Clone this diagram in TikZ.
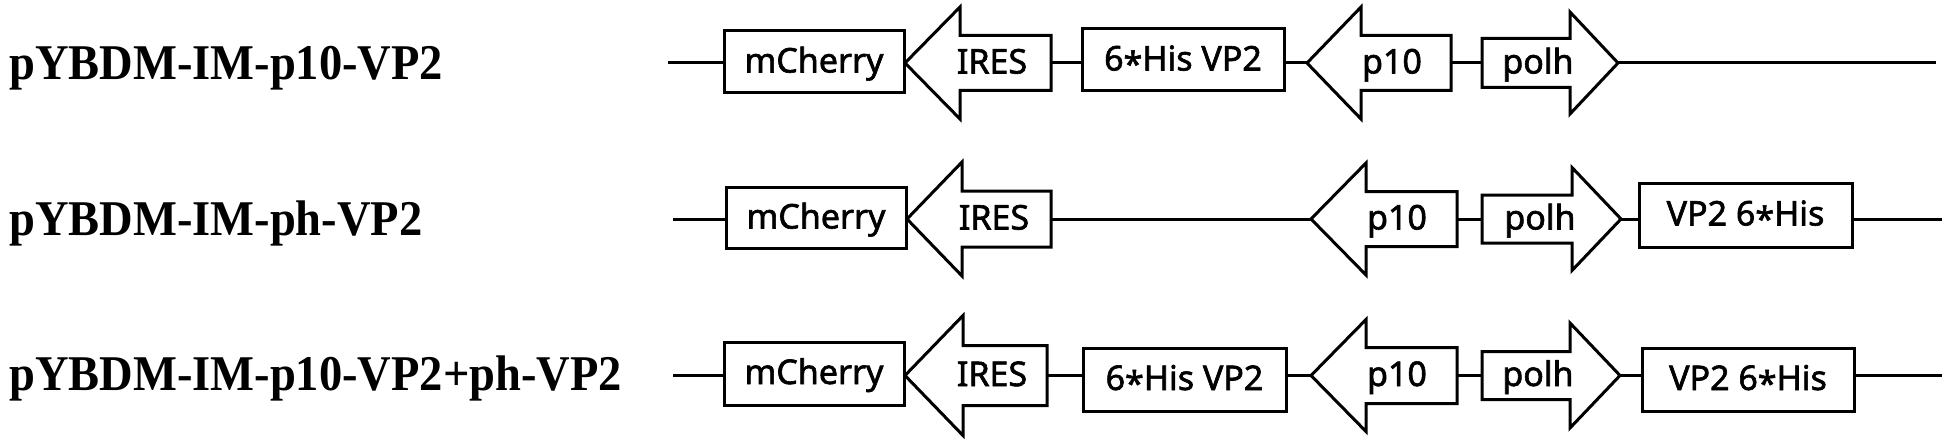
\documentclass[tikz,border=0pt]{standalone}
\usepackage{fontspec}
\usepackage{graphicx}
\newfontfamily\genefont[FakeBold=1.8]{Noto Sans}
\newfontfamily\namefont{Liberation Serif}
\newcommand{\sixhis}{6\raisebox{-0.17em}{*}His}
% #1 name, #2 tip x, #3 head-back x, #4 tail x, #5 y, #6 head half-height, #7 body half-height
\newcommand{\genearrow}[7]{%
  \draw[gene] (#2,#5) -- (#3,#5-#6) -- (#3,#5-#7) -- (#4,#5-#7) -- (#4,#5+#7)
    -- (#3,#5+#7) -- (#3,#5+#6) -- cycle;
  \coordinate (#1-tip) at (#2,#5);
  \coordinate (#1-tail) at (#4,#5);
}
\begin{document}
\begin{tikzpicture}[x=1pt,y=-1pt,
  gene/.style={draw=black,line width=3pt,fill=white,line join=miter},
  wire/.style={draw=black,line width=3pt},
  genebox/.style={draw=black,line width=3pt,fill=white,inner sep=0pt,
    font=\genefont\fontsize{34pt}{40pt}\selectfont,text height=28pt,text depth=7pt},
  genelabel/.style={inner sep=0pt,font=\genefont\fontsize{34pt}{40pt}\selectfont,
    text height=28pt,text depth=7pt},
  namelabel/.style={inner sep=0pt,anchor=base west,
    font=\namefont\bfseries\fontsize{50pt}{56pt}\selectfont}]
\fill[white] (0,0) rectangle (1946,441);
\useasboundingbox (0,0) rectangle (1946,441);

% ---------- row names ----------
\node[namelabel] (name1) at (9,80) {\scalebox{0.93}[1]{pYBDM-IM-p10-VP2}};
\node[namelabel] (name2) at (9,235) {\scalebox{0.93}[1]{pYBDM-IM-ph-VP2}};
\node[namelabel] (name3) at (9,390) {\scalebox{0.93}[1]{pYBDM-IM-p10-VP2+ph-VP2}};

% ---------- row 1 ----------
\coordinate (s1) at (668,63);
\coordinate (e1) at (1936,63);
\node[genebox,minimum width=180pt,minimum height=62pt] (mc1) at (814,62) {mCherry};
\genearrow{ires1}{905}{960}{1051}{63}{56}{27.5}
\node[genelabel] (iresl1) at (992,63) {IRES};
\node[genebox,minimum width=202pt,minimum height=62pt] (his1) at (1183,60) {\sixhis\ VP2};
\genearrow{pten1}{1307}{1361}{1451}{63}{56}{27.5}
\node[genelabel] (ptenl1) at (1392,63) {p10};
\genearrow{polh1}{1618}{1570}{1482}{63}{51}{24.5}
\node[genelabel] (polhl1) at (1538,63) {polh};
\draw[wire] (s1) -- (s1 -| mc1.west);
\draw[wire] (ires1-tail) -- (ires1-tail -| his1.west);
\draw[wire] (his1.east |- pten1-tip) -- (pten1-tip);
\draw[wire] (pten1-tail) -- (polh1-tail);
\draw[wire] (polh1-tip) -- (e1);

% ---------- row 2 ----------
\coordinate (s2) at (673,219);
\coordinate (e2) at (1942,219);
\node[genebox,minimum width=180pt,minimum height=61pt] (mc2) at (816,218) {mCherry};
\genearrow{ires2}{907}{962}{1051}{219}{57}{28}
\node[genelabel] (iresl2) at (994,219) {IRES};
\genearrow{pten2}{1311}{1366}{1457}{219}{56}{27.5}
\node[genelabel] (ptenl2) at (1397,219) {p10};
\genearrow{polh2}{1621}{1572}{1482}{219}{51.5}{24}
\node[genelabel] (polhl2) at (1540,219) {polh};
\node[genebox,minimum width=213pt,minimum height=64pt] (vp2) at (1745.5,215) {VP2 \sixhis};
\draw[wire] (s2) -- (s2 -| mc2.west);
\draw[wire] (ires2-tail) -- (pten2-tip);
\draw[wire] (pten2-tail) -- (polh2-tail);
\draw[wire] (polh2-tip) -- (polh2-tip -| vp2.west);
\draw[wire] (vp2.east |- e2) -- (e2);

% ---------- row 3 ----------
\coordinate (s3) at (673,375.5);
\coordinate (e3) at (1942,375.5);
\node[genebox,minimum width=180pt,minimum height=63pt] (mc3) at (814,373.5) {mCherry};
\genearrow{ires3}{905}{963}{1047}{375.5}{60}{30}
\node[genelabel] (iresl3) at (992,375.5) {IRES};
\node[genebox,minimum width=203pt,minimum height=63pt] (his3) at (1184.5,379.5) {\sixhis\ VP2};
\genearrow{pten3}{1311}{1366}{1457}{375.5}{56}{28}
\node[genelabel] (ptenl3) at (1397,375.5) {p10};
\genearrow{polh3}{1620}{1570}{1482}{375.5}{52.5}{24}
\node[genelabel] (polhl3) at (1538,375.5) {polh};
\node[genebox,minimum width=212pt,minimum height=63pt] (vp3) at (1748,379.5) {VP2 \sixhis};
\draw[wire] (s3) -- (s3 -| mc3.west);
\draw[wire] (ires3-tail) -- (ires3-tail -| his3.west);
\draw[wire] (his3.east |- pten3-tip) -- (pten3-tip);
\draw[wire] (pten3-tail) -- (polh3-tail);
\draw[wire] (polh3-tip) -- (polh3-tip -| vp3.west);
\draw[wire] (vp3.east |- e3) -- (e3);
\end{tikzpicture}
\end{document}
